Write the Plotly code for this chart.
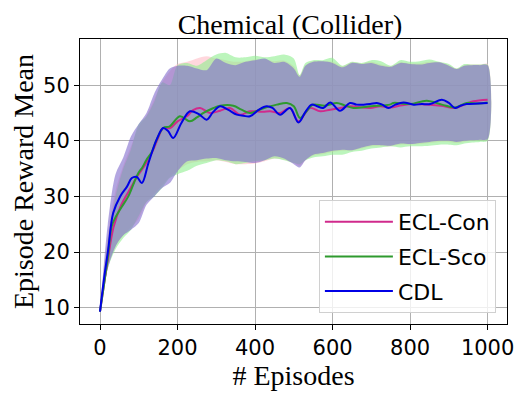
import plotly.graph_objects as go

# ---------------- data ----------------
# mean curves (episode, reward mean)
con_x = [0, 10, 20, 35, 55, 75, 95, 115, 135, 150, 163, 181, 200, 224, 240, 258, 284, 310, 335, 361, 387, 420, 439, 465, 490, 512, 542, 568, 594, 620, 645, 697, 723, 748, 780, 809, 850, 880, 916, 940, 963, 1000]
con_y = [9.3, 14, 18.5, 24.5, 28.5, 31, 33.5, 35.5, 38, 40.5, 42.3, 42.3, 43.5, 44.4, 45.5, 45.9, 45.0, 45.4, 45.9, 44.7, 45.3, 45.2, 45.3, 45.0, 45.9, 43.5, 45.9, 45.3, 45.6, 45.9, 46.2, 45.9, 46.2, 46.0, 46.4, 46.6, 46.5, 46.3, 45.9, 46.5, 47.1, 47.4]

sco_x = [0, 10, 20, 30, 39, 55, 73, 88, 99, 110, 120, 133, 145, 163, 180, 206, 232, 250, 267, 290, 310, 344, 365, 387, 420, 456, 482, 500, 516, 535, 550, 580, 611, 630, 654, 700, 748, 757, 800, 843, 882, 916, 946, 975, 1000]
sco_y = [9.3, 14, 19, 24.6, 26.1, 28, 30, 32.5, 34.2, 35.3, 36.6, 37.9, 40, 42.3, 42.6, 44.4, 43.5, 44.2, 45, 45.8, 46.3, 46.3, 45.6, 45.0, 45.8, 46.5, 46.8, 46.2, 44.1, 45.5, 46.5, 46.3, 46.8, 46.4, 45.9, 46.2, 46.5, 46.8, 46.6, 47.2, 46.5, 46.0, 46.8, 46.7, 46.9]

cdl_x = [0, 10, 21, 34, 52, 70, 82, 95, 108, 125, 146, 163, 175, 189, 210, 232, 255, 275, 292, 310, 330, 353, 370, 387, 410, 430, 445, 465, 490, 512, 530, 546, 560, 576, 594, 619, 645, 662, 680, 697, 714, 728, 744, 762, 783, 809, 830, 852, 882, 900, 916, 930, 946, 975, 1000]
cdl_y = [9.3, 15, 20.4, 27, 30, 31.8, 33.3, 33.5, 32.4, 36, 40.2, 42.3, 41.8, 40.5, 43.2, 45.3, 44.8, 43.8, 45.2, 46.2, 45.6, 44.7, 44.5, 44.4, 45.6, 46.2, 45.9, 44.7, 45.9, 43.3, 45.2, 46.5, 46.2, 45.9, 46.9, 45.4, 46.8, 46.5, 46.5, 46.6, 46.8, 46.5, 45.9, 46.5, 46.9, 46.5, 46.6, 46.6, 47.4, 46.8, 45.9, 46.3, 46.6, 46.7, 46.8]

# shaded bands (common episode grid)
band_x = [0, 20, 40, 60, 80, 100, 120, 140, 160, 180, 200, 225, 250, 275, 300, 325, 350, 375, 400, 425, 450, 475, 500, 515, 530, 550, 575, 600, 625, 650, 675, 700, 725, 750, 775, 800, 825, 850, 875, 900, 920, 940, 960, 980, 1000]

cdl_up = [9.5, 25, 34, 37, 40.8, 43, 45, 48.5, 51, 53, 53.5, 53.5, 53, 52.7, 54.8, 54, 53.6, 54.2, 54.5, 54.8, 54, 54.2, 53, 51.5, 53.5, 54.2, 54.3, 54, 53.2, 54, 53.8, 54, 53.5, 53.3, 54, 53.8, 53.7, 54, 54.1, 53.5, 52.9, 53.5, 53.6, 53.6, 53.6]
cdl_lo = [9.2, 17, 21, 23, 24, 25.2, 28.5, 30, 31.5, 32.4, 34.5, 36.3, 36.5, 36.8, 36.9, 36.5, 36.3, 36.2, 36, 36.5, 37.2, 36.8, 35.8, 35.2, 36.5, 37.5, 37.8, 38.2, 38.4, 38.3, 38.8, 39.2, 39.2, 39.1, 39.5, 39.4, 39.6, 39.8, 40, 40, 39.8, 40, 40.1, 40.2, 40.3]

sco_up = [9.5, 22, 30, 35, 38.5, 43, 44.4, 47, 50.5, 50, 53.6, 54, 53.5, 54.5, 55.5, 55.8, 55, 55, 55.3, 55, 55.2, 55.5, 54.8, 51.8, 54, 54.5, 54.5, 54.9, 53.5, 54.2, 54, 54.5, 54.3, 53.5, 54.5, 54.2, 54.3, 54.6, 54.2, 53.8, 53, 53.8, 53.7, 53.7, 53.7]
sco_lo = [9.2, 17, 20.5, 22.5, 24, 26.5, 29, 30, 31.5, 33.3, 34, 34.6, 35.5, 36, 36.5, 36.3, 35.8, 36, 36.3, 36.5, 36.8, 36.5, 36, 35.8, 36.5, 37, 37.2, 37.5, 37.5, 38, 38.2, 38.6, 38.8, 39, 38.8, 39, 39, 39.1, 39.3, 39.3, 39.2, 39.5, 39.7, 39.8, 40]

con_up = [9.5, 23, 31, 35.5, 39, 42.5, 44.5, 47.5, 50.5, 52.5, 53.8, 54.2, 54.8, 55.2, 54.8, 54.5, 54.2, 54.3, 54.6, 54.6, 54.3, 54.4, 53.4, 51.8, 53.6, 54.3, 54.3, 54.2, 53.4, 54.1, 53.9, 54.2, 53.7, 53.4, 54.1, 53.9, 53.9, 54.2, 54.1, 53.6, 53, 53.6, 53.7, 53.7, 53.8]
con_lo = [9.2, 17.5, 21, 23, 24.5, 26, 29, 30.5, 32, 33.5, 34.6, 35.8, 36.2, 36.3, 36.5, 36.2, 35.8, 35.8, 35.9, 36.3, 36.8, 36.6, 36, 35.5, 36.5, 37.3, 37.6, 38, 38.2, 38.2, 38.6, 39, 39, 39, 39.3, 39.3, 39.4, 39.6, 39.8, 39.8, 39.6, 39.8, 40, 40.1, 40.2]

names = ["ECL-Con", "ECL-Sco", "CDL"]
line_colors = ["#d02a8c", "#2e9a2e", "#0000e6"]
band_colors = ["rgba(255,182,193,0.55)", "rgba(144,238,144,0.6)", "rgba(128,106,205,0.6)"]

x_ticks = [0, 200, 400, 600, 800, 1000]
y_ticks = [10, 20, 30, 40, 50]

# ---------------- figure ----------------
fig = go.Figure()

bands = [(con_up, con_lo), (sco_up, sco_lo), (cdl_up, cdl_lo)]
for (up, lo), bc in zip(bands, band_colors):
    fig.add_trace(go.Scatter(
        x=band_x + band_x[::-1], y=up + lo[::-1],
        fill="toself", fillcolor=bc, mode="lines",
        line=dict(width=0, shape="spline", smoothing=0.8),
        hoverinfo="skip", showlegend=False))

series = [(con_x, con_y), (sco_x, sco_y), (cdl_x, cdl_y)]
for (xs, ys), nm, lc in zip(series, names, line_colors):
    fig.add_trace(go.Scatter(
        x=xs, y=ys, name=nm, mode="lines", legendgroup=nm,
        line=dict(color=lc, width=2, shape="spline", smoothing=1.0)))

axis_common = dict(
    showline=True, linecolor="black", linewidth=1, mirror=True,
    showgrid=True, gridcolor="#b0b0b0", gridwidth=1,
    ticks="outside", ticklen=5, tickcolor="black",
    tickfont=dict(family="DejaVu Sans", size=21, color="black"),
    zeroline=False, automargin=False,
)

fig.update_layout(
    width=515, height=383,
    margin=dict(l=72, r=16, t=31, b=67),
    paper_bgcolor="white", plot_bgcolor="white",
    title=dict(text="Chemical (Collider)", x=0.5476, xanchor="center",
               y=0.958, yanchor="middle",
               font=dict(family="Liberation Serif", size=28, color="black")),
    xaxis=dict(range=[-51.6, 1050], tickvals=x_ticks,
               title=dict(text="# Episodes", standoff=0,
                          font=dict(family="Liberation Serif", size=28, color="black")),
               **axis_common),
    yaxis=dict(range=[7.06, 58.3], tickvals=y_ticks,
               title=dict(text="Episode Reward Mean", standoff=8,
                          font=dict(family="Liberation Serif", size=28, color="black")),
               **axis_common),
    legend=dict(x=0.974, y=0.0386, xanchor="right", yanchor="bottom",
                bgcolor="rgba(255,255,255,0.8)", bordercolor="#d0d0d0", borderwidth=1,
                font=dict(family="DejaVu Sans", size=22, color="black"),
                traceorder="grouped", tracegroupgap=3, itemwidth=68),
    showlegend=True,
)

fig.write_html("out.html")
